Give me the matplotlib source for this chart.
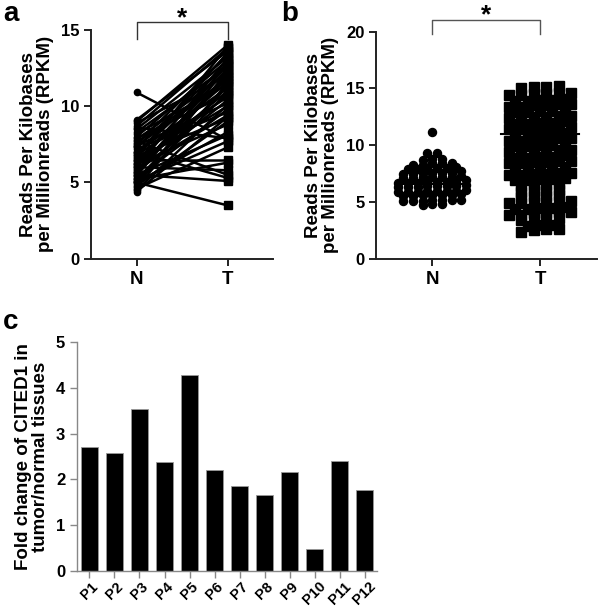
import numpy as np
from matplotlib import pyplot as plt

plt.rcParams['font.family'] = ['Liberation Sans', 'DejaVu Sans']
plt.rcParams['font.weight'] = 'bold'
plt.rcParams['axes.labelweight'] = 'bold'

# panel a: paired N/T values
a_normal = [10.9, 9.1, 9.0, 8.9, 8.7, 8.5, 8.3, 8.2, 8.0, 7.9, 7.8, 7.6, 7.5, 7.4, 7.3,
            7.2, 7.0, 6.9, 6.8, 6.7, 6.6, 6.5, 6.4, 6.3, 6.2, 6.1, 6.0, 5.9, 5.8, 5.7,
            5.6, 5.5, 5.4, 5.3, 5.2, 5.1, 5.0, 5.0, 4.9, 4.8, 4.7, 4.6, 4.5, 4.4, 7.7,
            6.0, 5.2, 5.5, 5.0, 6.5, 7.0, 8.6, 6.8, 5.7, 7.4, 6.2]
a_tumor = [7.8, 13.6, 14.0, 12.0, 13.8, 13.2, 12.6, 11.4, 13.0, 10.8, 12.2, 11.8, 13.4, 10.2, 12.8,
           9.6, 11.2, 12.4, 10.6, 9.2, 13.9, 11.6, 10.0, 12.7, 8.8, 11.0, 13.1, 9.4, 12.1, 10.4,
           11.9, 8.1, 12.9, 9.8, 11.3, 7.7, 10.9, 8.3, 12.3, 9.0, 11.5, 7.3, 10.1, 9.3, 5.5,
           5.8, 6.3, 5.1, 3.5, 6.5, 5.3, 7.9, 13.5, 12.5, 11.7, 10.7]

# panel b: unpaired N/T values
b_normal = [11.2,
            9.3, 9.3,
            8.8, 8.7, 8.8,
            8.4, 8.3, 8.4, 8.3, 8.4,
            8.0, 7.9, 8.0, 8.1, 7.9, 8.0,
            7.6, 7.5, 7.6, 7.7, 7.5, 7.6, 7.6,
            7.2, 7.1, 7.2, 7.3, 7.1, 7.2, 7.2,
            6.8, 6.7, 6.8, 6.9, 6.7, 6.8, 6.8, 6.7,
            6.4, 6.3, 6.4, 6.5, 6.3, 6.4, 6.4, 6.3,
            6.0, 5.9, 6.0, 6.1, 5.9, 6.0, 6.0, 5.9,
            5.6, 5.5, 5.6, 5.7, 5.5, 5.6, 5.6,
            5.2, 5.1, 5.2, 5.1, 5.2, 5.1, 5.2,
            4.8, 4.7, 4.8]
b_tumor = [15.1, 15.2, 15.1, 15.0,
           14.5, 14.6, 14.4, 14.5, 14.6, 14.4,
           14.0, 13.9, 14.1, 14.0, 13.9,
           13.5, 13.4, 13.6, 13.5, 13.4, 13.6,
           13.0, 12.9, 13.1, 13.0, 12.9,
           12.5, 12.4, 12.6, 12.5, 12.4, 12.6,
           12.0, 11.9, 12.1, 12.0, 11.9,
           11.5, 11.4, 11.6, 11.5, 11.4, 11.6,
           11.0, 10.9, 11.1, 11.0, 10.9,
           10.5, 10.4, 10.6, 10.5, 10.4, 10.6,
           10.0, 9.9, 10.1, 10.0, 9.9,
           9.5, 9.4, 9.6, 9.5, 9.4, 9.6,
           9.0, 8.9, 9.1, 9.0, 8.9,
           8.5, 8.4, 8.6, 8.5, 8.4, 8.6,
           8.0, 7.9, 8.1, 8.0, 7.9,
           7.5, 7.4, 7.6, 7.5, 7.4, 7.6,
           7.0, 6.9, 7.1, 7.0, 6.9,
           6.5, 6.4, 6.6, 6.5,
           6.0, 5.9, 6.1, 6.0,
           5.5, 5.4, 5.6, 5.5,
           5.0, 4.9, 5.1, 5.0, 4.9, 5.1,
           4.5, 4.4, 4.6, 4.5, 4.4,
           4.0, 3.9, 4.1, 4.0, 3.9, 4.1,
           3.5, 3.4, 3.6, 3.5,
           3.0, 2.9, 3.0,
           2.6, 2.4, 2.6, 2.5]
n_median = 6.6
t_median = 11.0

# panel c: fold change
patients = ['P1', 'P2', 'P3', 'P4', 'P5', 'P6', 'P7', 'P8', 'P9', 'P10', 'P11', 'P12']
fold_change = [2.71, 2.57, 3.53, 2.37, 4.28, 2.20, 1.86, 1.67, 2.17, 0.49, 2.41, 1.77]


def swarm_x(vals, center, dy, dx):
    vals = np.asarray(vals)
    rows = {}
    for i in np.argsort(vals):
        rows.setdefault(int(round(vals[i] / dy)), []).append(i)
    xs = np.zeros(len(vals))
    for idx in rows.values():
        n = len(idx)
        for k, i in enumerate(idx):
            xs[i] = center + (k - (n - 1) / 2) * dx
    return xs


def style_axes(ax, color='#222222', lw=1.4):
    ax.spines['top'].set_visible(False)
    ax.spines['right'].set_visible(False)
    for s in ['left', 'bottom']:
        ax.spines[s].set_color(color)
        ax.spines[s].set_linewidth(lw)
    ax.tick_params(colors=color, width=lw, length=5, labelcolor='black')


lab_kw = dict(fontsize=13.5, fontweight='bold', linespacing=1.0, labelpad=5)

fig = plt.figure(figsize=(5.99, 6.09), dpi=100)

# ---- a
ax1 = fig.add_axes([0.152, 0.575, 0.304, 0.376])
for n, t in zip(a_normal, a_tumor):
    ax1.plot([0, 1], [n, t], '-', color='black', lw=1.8, zorder=2)
ax1.plot(np.zeros(len(a_normal)), a_normal, 'o', color='black', ms=4.5, zorder=3)
ax1.plot(np.ones(len(a_tumor)), a_tumor, 's', color='black', ms=5.5, zorder=3)
ax1.set_xlim(-0.5, 1.5)
ax1.set_ylim(0, 15)
ax1.set_yticks([0, 5, 10, 15])
ax1.set_xticks([0, 1])
ax1.set_xticklabels(['N', 'T'], fontsize=13.5, fontweight='bold')
ax1.set_yticklabels(['0', '5', '10', '15'], fontsize=12, fontweight='bold')
ax1.set_ylabel('Reads Per Kilobases\nper Millionreads (RPKM)', **lab_kw)
style_axes(ax1)
ax1.plot([0, 0, 1, 1], [14.4, 15.5, 15.5, 14.4], color='#333333', lw=1.0, clip_on=False)
ax1.text(0.5, 15.75, '*', ha='center', va='center', fontsize=19, fontweight='bold')

# ---- b
ax2 = fig.add_axes([0.628, 0.575, 0.369, 0.373])
xn = swarm_x(b_normal, 0, 0.4, 0.09)
xt = swarm_x(b_tumor, 1, 0.5, 0.115)
ax2.plot(xn, b_normal, 'o', color='black', ms=5.8, zorder=3)
ax2.plot(xt, b_tumor, 's', color='black', ms=7.3, zorder=3)
ax2.plot([-0.34, 0.34], [n_median, n_median], color='black', lw=1.5, zorder=4)
ax2.plot([0.64, 1.36], [t_median, t_median], color='black', lw=1.5, zorder=4)
ax2.set_xlim(-0.52, 1.53)
ax2.set_ylim(0, 20)
ax2.set_yticks([0, 5, 10, 15, 20])
ax2.set_xticks([0, 1])
ax2.set_xticklabels(['N', 'T'], fontsize=13.5, fontweight='bold')
ax2.set_yticklabels(['0', '5', '10', '15', '20'], fontsize=12, fontweight='bold')
ax2.set_ylabel('Reads Per Kilobases\nper Millionreads (RPKM)', **lab_kw)
style_axes(ax2)
ax2.plot([0, 0, 1, 1], [19.8, 21.05, 21.05, 19.8], color='#555555', lw=1.0, clip_on=False)
ax2.text(0.5, 21.4, '*', ha='center', va='center', fontsize=19, fontweight='bold')

# ---- c
ax3 = fig.add_axes([0.1285, 0.0624, 0.501, 0.376])
x = np.arange(len(patients))
ax3.bar(x, fold_change, width=0.67, color='black', edgecolor='#999999', linewidth=0.6)
ax3.set_xlim(-0.5, 11.5)
ax3.set_ylim(0, 5)
ax3.set_yticks([0, 1, 2, 3, 4, 5])
ax3.set_yticklabels(['0', '1', '2', '3', '4', '5'], fontsize=12, fontweight='bold')
ax3.set_xticks(x)
ax3.set_xticklabels(patients, rotation=45, ha='center', fontsize=10.5, fontweight='bold')
ax3.set_ylabel('Fold change of CITED1 in\ntumor/normal tissues', **lab_kw)
style_axes(ax3, color='#888888', lw=1.0)
ax3.tick_params(axis='x', pad=1)

fig.text(0.005, 0.998, 'a', fontsize=20, fontweight='bold', va='top')
fig.text(0.47, 0.998, 'b', fontsize=20, fontweight='bold', va='top')
fig.text(0.005, 0.492, 'c', fontsize=20, fontweight='bold', va='top')

plt.savefig('out.png', dpi=100)
